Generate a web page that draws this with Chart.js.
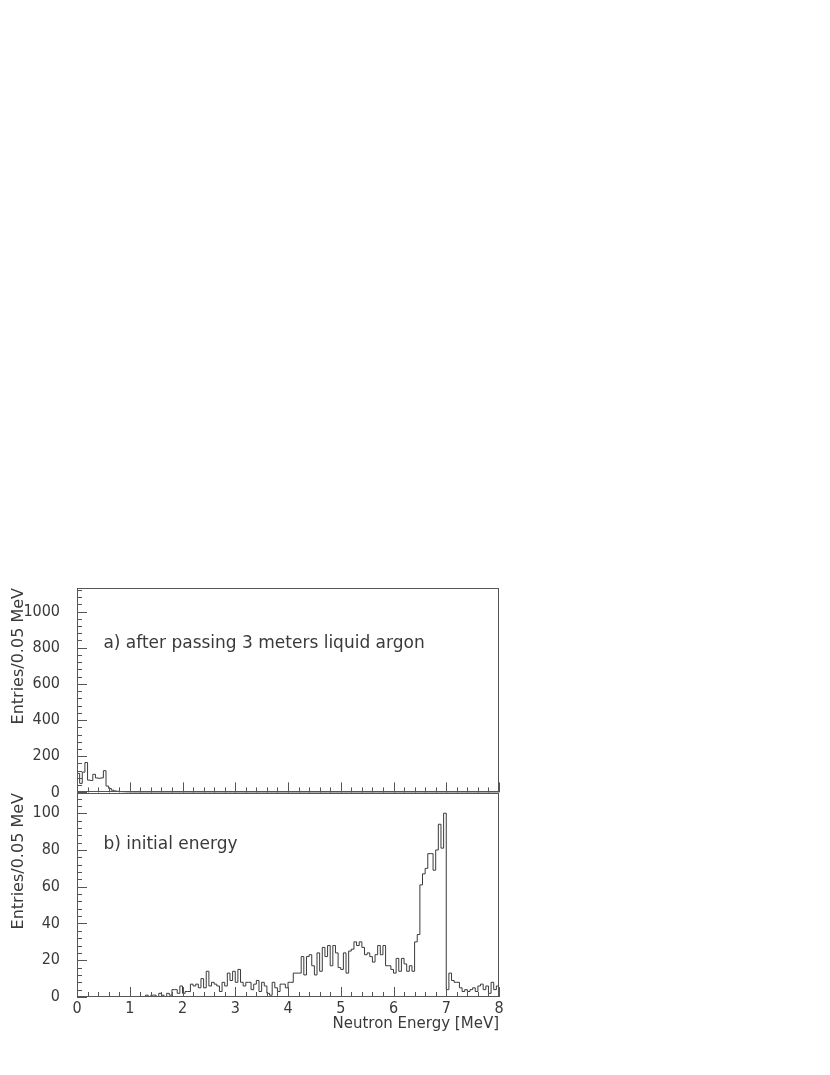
<!DOCTYPE html>
<html>
<head>
<meta charset="utf-8">
<script src="https://cdn.jsdelivr.net/npm/chart.js@4.4.1/dist/chart.umd.min.js"></script>
<style>
  html, body { margin: 0; background: #fff; width: 830px; height: 1075px; overflow: hidden; }
  canvas { position: absolute; left: 0; }
  #topChart { top: 570px; }
  #botChart { top: 780px; }
</style>
</head>
<body>
<canvas id="topChart" width="520" height="232"></canvas>
<canvas id="botChart" width="520" height="253"></canvas>
<script>
// ─── Data (entries per 0.05 MeV bin, 0–8 MeV, 160 bins) ─────────────────────

const binWidth = 0.05;

// a) after passing 3 meters liquid argon
const afterArgon = [
  105,  50, 112, 165,  68,  66, 100,  80,  78,  80, 120,  35,  22,  12,   8,   6,   4,   3,   2,   1,
    1,   0,   0,   0,   0,   0,   0,   0,   0,   0,   0,   0,   0,   0,   0,   0,   0,   0,   0,   0,
    0,   0,   0,   0,   0,   0,   0,   0,   0,   0,   0,   0,   0,   0,   0,   0,   0,   0,   0,   0,
    0,   0,   0,   0,   0,   0,   0,   0,   0,   0,   0,   0,   0,   0,   0,   0,   0,   0,   0,   0,
    0,   0,   0,   0,   0,   0,   0,   0,   0,   0,   0,   0,   0,   0,   0,   0,   0,   0,   0,   0,
    0,   0,   0,   0,   0,   0,   0,   0,   0,   0,   0,   0,   0,   0,   0,   0,   0,   0,   0,   0,
    0,   0,   0,   0,   0,   0,   0,   0,   0,   0,   0,   0,   0,   0,   0,   0,   0,   0,   0,   0,
    0,   0,   0,   0,   0,   0,   0,   0,   0,   0,   0,   0,   0,   0,   0,   0,   0,   0,   0,   0,
];

// b) initial energy
const initialEnergy = [
    0,   0,   0,   0,   0,   0,   0,   0,   0,   0,   0,   0,   0,   0,   0,   0,   0,   0,   0,   0,
    0,   0,   0,   0,   0,   0,   1,   0,   1,   1,   0,   2,   1,   0,   2,   1,   4,   4,   2,   6,
    2,   3,   3,   7,   6,   7,   5,  10,   5,  14,   6,   8,   7,   6,   3,   8,   6,  13,   9,  14,
    8,  15,   8,   6,   8,   8,   4,   7,   9,   3,   8,   6,   2,   1,   8,   5,   3,   7,   7,   5,
    8,   8,  13,  13,  13,  22,  12,  22,  23,  17,  12,  24,  14,  27,  22,  28,  17,  28,  24,  16,
   15,  24,  13,  25,  26,  30,  28,  30,  27,  23,  24,  22,  19,  23,  28,  23,  28,  17,  17,  15,
   13,  21,  14,  21,  18,  14,  17,  14,  30,  34,  61,  67,  70,  78,  78,  69,  80,  94,  81, 100,
    4,  13,   9,   8,   8,   5,   3,   4,   3,   4,   5,   3,   6,   7,   4,   6,   2,   8,   4,   6,
];

// tick labels
const xTickValues   = [0, 1, 2, 3, 4, 5, 6, 7, 8];
const yTickValuesA  = [0, 200, 400, 600, 800, 1000];
const yTickValuesB  = [0, 20, 40, 60, 80, 100];

// ─── Helpers ─────────────────────────────────────────────────────────────────

const INK   = '#3a3a3a';
const FRAME = '#555';
const TEXT_FONT = "'DejaVu Sans', 'Liberation Sans', sans-serif";
const NUM_FONT  = "'Liberation Sans Narrow', 'DejaVu Sans Condensed', 'Liberation Sans', sans-serif";

// left bin edges + closing edge at 8 MeV, drawn as a step outline
function histPoints(counts) {
  const pts = counts.map((c, i) => ({ x: i * binWidth, y: c }));
  pts.push({ x: counts.length * binWidth, y: counts[counts.length - 1] });
  return pts;
}

// PAW-style frame with inward ticks + panel caption
const frameTicks = {
  id: 'frameTicks',
  afterDraw(chart, args, opts) {
    const { ctx, chartArea: a, scales: { x, y } } = chart;
    ctx.save();
    ctx.strokeStyle = FRAME;
    ctx.lineWidth = 1;
    ctx.strokeRect(Math.round(a.left) + 0.5, Math.round(a.top) + 0.5,
                   Math.round(a.right - a.left) - 1, Math.round(a.bottom - a.top) - 1);

    ctx.beginPath();
    // x ticks every 0.2 MeV, longer at integers
    for (let k = 0; k <= 40; k++) {
      const px = Math.round(x.getPixelForValue(k * 0.2)) + 0.5;
      const len = k % 5 === 0 ? 10 : 5;
      ctx.moveTo(px, a.bottom);
      ctx.lineTo(px, a.bottom - len);
    }
    // y ticks
    for (let v = 0; v <= y.max; v += opts.yMinor) {
      const py = Math.round(y.getPixelForValue(v)) + 0.5;
      const len = Math.round(v / opts.yMinor) % 5 === 0 ? 10 : 5;
      ctx.moveTo(a.left, py);
      ctx.lineTo(a.left + len, py);
    }
    ctx.stroke();

    ctx.fillStyle = INK;
    ctx.font = '17px ' + TEXT_FONT;
    ctx.textBaseline = 'middle';
    ctx.textAlign = 'left';
    ctx.fillText(opts.caption, x.getPixelForValue(opts.capX), y.getPixelForValue(opts.capY));
    ctx.restore();
  },
};

function makePanel(canvasId, counts, yMax, yTicks, yMinor, caption, capY, showX, padding) {
  const ctx = document.getElementById(canvasId).getContext('2d');
  return new Chart(ctx, {
    type: 'line',
    data: {
      datasets: [{
        data: histPoints(counts),
        borderColor: INK,
        borderWidth: 1,
        pointRadius: 0,
        stepped: 'before',
        fill: false,
      }],
    },
    options: {
      responsive: false,
      animation:  false,
      layout: { padding },
      plugins: {
        legend:  { display: false },
        tooltip: { enabled: false },
        frameTicks: { yMinor, caption, capX: 0.5, capY },
      },
      scales: {
        x: {
          type: 'linear',
          min: 0,
          max: 8,
          display: showX,
          grid:   { display: false, drawTicks: false },
          border: { display: false },
          afterBuildTicks: (s) => { s.ticks = xTickValues.map(v => ({ value: v })); },
          afterFit: (s) => { if (showX) s.height = 36; },
          ticks: {
            autoSkip: false,
            maxRotation: 0,
            padding: 2,
            color: INK,
            font: { family: NUM_FONT, size: 16 },
            callback: (v) => String(v),
          },
          title: {
            display: true,
            text: 'Neutron Energy [MeV]',
            align: 'end',
            color: INK,
            font: { family: TEXT_FONT, size: 15 },
            padding: { top: 0, bottom: 0 },
          },
        },
        y: {
          min: 0,
          max: yMax,
          grid:   { display: false, drawTicks: true, tickLength: 17 },
          border: { display: false },
          afterBuildTicks: (s) => { s.ticks = yTicks.map(v => ({ value: v })); },
          afterFit: (s) => { s.width = 77; },
          ticks: {
            padding: 0,
            color: INK,
            font: { family: NUM_FONT, size: 16 },
            callback: (v) => String(v),
          },
          title: {
            display: true,
            text: 'Entries/0.05 MeV',
            align: 'end',
            color: INK,
            font: { family: TEXT_FONT, size: 16 },
            padding: { top: 9, bottom: 0 },
          },
        },
      },
    },
    plugins: [frameTicks],
  });
}

makePanel('topChart', afterArgon, 1130, yTickValuesA, 40,
          'a) after passing 3 meters liquid argon', 825, false,
          { left: 0, right: 21, top: 18, bottom: 0 });

makePanel('botChart', initialEnergy, 111, yTickValuesB, 4,
          'b) initial energy', 83, true,
          { left: 0, right: 21, top: 13, bottom: 0 });
</script>
</body>
</html>
